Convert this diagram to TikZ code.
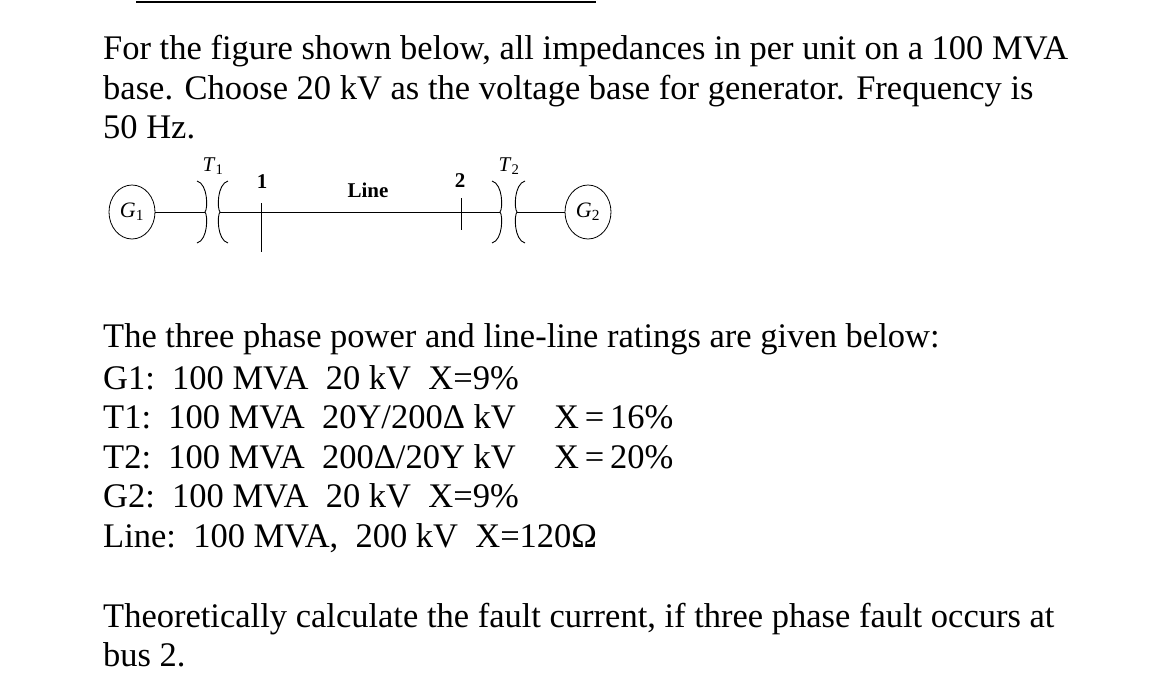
\documentclass[tikz,border=0pt]{standalone}
\usepackage{fontspec}
\setmainfont{Liberation Serif}
\usetikzlibrary{shapes.geometric}
\begin{document}
\begin{tikzpicture}[x=1pt,y=-1pt,
  txt/.style={anchor=base west,inner sep=0pt,font=\fontsize{34.5}{40}\selectfont},
  lab/.style={inner sep=0pt,font=\fontsize{21}{24}\selectfont},
  gen/.style={draw,ellipse,minimum width=46pt,minimum height=54pt,inner sep=0pt,line width=0.8pt,font=\fontsize{22}{24}\selectfont},
  wire/.style={line width=0.9pt}]
\useasboundingbox (0,0) rectangle (1170,681);
\coordinate (ha) at (136,2); \coordinate (hb) at (596,2);
\draw[line width=2pt] (ha) -- (hb);
\node[txt] (p1) at (103,59) {For the figure shown below, all impedances in per unit on a 100 MVA};
\node[txt] (p2) at (103,99) {base. Choose 20 kV as the voltage base for generator. Frequency is};
\node[txt] (p3) at (103,138) {50 Hz.};
% diagram
\node[gen] (g1) at (132,212) {\textit{G}\textsubscript{1}};
\node[gen] (g2) at (588,212) {\textit{G}\textsubscript{2}};
\coordinate (t1a) at (205,212); \coordinate (t1b) at (220,212);
\coordinate (t2a) at (500,212); \coordinate (t2b) at (517,212);
\draw[wire] (g1.east) -- (t1a);
\draw[wire] (t1b) -- (t2a);
\draw[wire] (t2b) -- (g2.west);
\foreach \c/\d in {t1a/1,t2a/1,t1b/-1,t2b/-1}{
  \draw[wire] ([shift={(-8*\d,-31)}]\c) .. controls ([shift={(3*\d,-28)}]\c) and ([shift={(3*\d,-3)}]\c) .. (\c)
     .. controls ([shift={(3*\d,3)}]\c) and ([shift={(3*\d,28)}]\c) .. ([shift={(-8*\d,31)}]\c);
}
\coordinate (b1t) at (261,203); \coordinate (b1b) at (261,252);
\coordinate (b2t) at (461,198); \coordinate (b2b) at (461,230);
\draw[wire] (b1t) -- (b1b);
\draw[wire] (b2t) -- (b2b);
\node[lab] (l1) at (262,182) {\textbf{1}};
\node[lab] (l2) at (460,181) {\textbf{2}};
\node[lab] (ll) at (368,190) {\textbf{Line}};
\node[lab] (tt1) at (213,166) {\textit{T}\textsubscript{1}};
\node[lab] (tt2) at (509,166) {\textit{T}\textsubscript{2}};
% ratings
\node[txt] (r0) at (103,347) {The three phase power and line-line ratings are given below:};
\node[txt] (r1) at (103,389) {G1:\ \ 100 MVA\ \ 20 kV\ \ X=9\%};
\node[txt] (r2) at (103,428) {T1:\ \ 100 MVA\ \ 20Y/200Δ kV};
\node[txt] (r2x) at (554,428) {X\,=\,16\%};
\node[txt] (r3) at (103,468) {T2:\ \ 100 MVA\ \ 200Δ/20Y kV};
\node[txt] (r3x) at (554,468) {X\,=\,20\%};
\node[txt] (r4) at (103,507) {G2:\ \ 100 MVA\ \ 20 kV\ \ X=9\%};
\node[txt] (r5) at (103,547) {Line:\ \ 100 MVA,\ \ 200 kV\ \ X=120Ω};
\node[txt] (q1) at (103,627) {Theoretically calculate the fault current, if three phase fault occurs at};
\node[txt] (q2) at (103,666) {bus 2.};
\end{tikzpicture}
\end{document}
